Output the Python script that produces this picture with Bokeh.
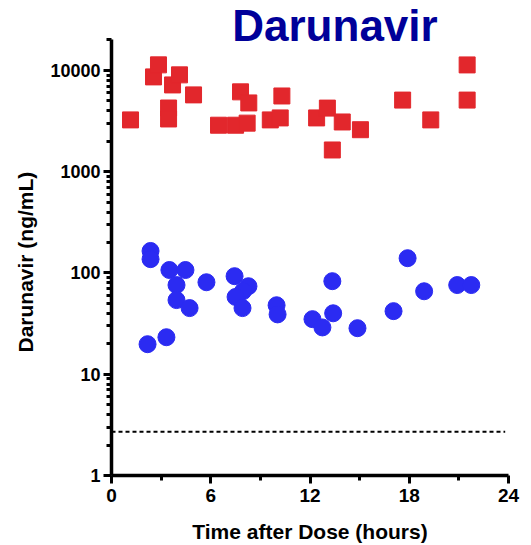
from bokeh.plotting import figure
from bokeh.models import FixedTicker, Label, Range1d, Title
from bokeh.embed import file_html
from bokeh.resources import INLINE

# Red squares series (time h, concentration ng/mL)
sq_x = [1.15, 2.54, 2.84, 3.69, 4.11, 4.96, 3.45, 3.45, 6.47, 7.5, 8.2, 7.8, 8.3,
        9.6, 10.2, 10.3, 12.4, 13.05, 13.95, 15.05, 13.35, 17.6, 19.3, 21.5, 21.5]
sq_y = [3250, 8640, 11360, 7200, 9050, 5740, 4260, 3320, 2880, 2880, 3020, 6150, 4780,
        3250, 3400, 5600, 3400, 4250, 3100, 2600, 1640, 5100, 3250, 11350, 5100]

# Blue circles series
ci_x = [2.36, 2.36, 3.5, 4.47, 5.74, 3.93, 3.93, 4.72, 3.32, 2.18, 7.44, 8.28, 7.95,
        7.5, 7.92, 9.98, 10.04, 12.15, 12.75, 13.4, 13.35, 14.87, 17.05, 17.9, 18.9,
        20.9, 21.75]
ci_y = [165, 137, 107, 107, 81, 76, 54, 45, 23.2, 19.8, 93, 74, 66,
        58, 45, 48, 39, 35, 29, 40, 83, 28.5, 42, 140, 66,
        76, 76]

# Dashed limit line
loq_x = [0, 23.8]
loq_y = [2.7, 2.7]

x_ticks = [0, 6, 12, 18, 24]
x_minor = [3, 9, 15, 21]
y_ticks = [1, 10, 100, 1000, 10000]
y_labels = ["1", "10", "100", "1000", "10000"]
y_minor = [m * d for d in [1, 10, 100, 1000] for m in range(2, 10)] + [20000]
y_axis_top = 20000

title_text = "Darunavir"
x_label = "Time after Dose (hours)"
y_label = "Darunavir (ng/mL)"

FONT = "Liberation Sans"

p = figure(width=531, height=545, y_axis_type="log", title=None,
           x_range=Range1d(0, 24), y_range=Range1d(1, 49100),
           output_backend="svg", toolbar_location=None,
           min_border_left=111, min_border_right=23,
           min_border_top=0, min_border_bottom=70)
p.outline_line_color = None
p.xgrid.visible = False
p.ygrid.visible = False
p.background_fill_color = "white"
p.border_fill_color = "white"

p.line(loq_x, loq_y, line_color="black", line_width=2, line_dash="4 3")
p.scatter(sq_x, sq_y, marker="square", size=16, fill_color="#E2272C",
          line_color="#E2272C")
p.scatter(ci_x, ci_y, marker="circle", size=17, fill_color="#2B2BF2",
          line_color="#2B2BF2")

for ax in (p.xaxis[0], p.yaxis[0]):
    ax.axis_line_width = 3.5
    ax.axis_line_color = "black"
    ax.major_tick_line_width = 3
    ax.minor_tick_line_width = 3
    ax.major_tick_out = 8
    ax.major_tick_in = 0
    ax.minor_tick_out = 5
    ax.minor_tick_in = 0
    ax.major_label_text_font = FONT
    ax.major_label_text_font_style = "bold"
    ax.major_label_text_color = "black"
    ax.axis_label_text_font = FONT
    ax.axis_label_text_font_style = "bold"
    ax.axis_label_text_color = "black"

p.xaxis.ticker = FixedTicker(ticks=x_ticks, minor_ticks=x_minor)
p.xaxis.major_label_text_font_size = "19px"
p.xaxis.major_label_standoff = 5
p.xaxis.axis_label = x_label
p.xaxis.axis_label_text_font_size = "21px"
p.xaxis.axis_label_standoff = 15

p.yaxis.ticker = FixedTicker(ticks=y_ticks, minor_ticks=y_minor)
p.yaxis.bounds = (1, y_axis_top)
p.yaxis.major_label_overrides = {t: l for t, l in zip(y_ticks, y_labels)}
p.yaxis.major_label_text_font_size = "18px"
p.yaxis.major_label_standoff = 3

# y-axis label as a left-side title so it can be positioned along the axis
p.add_layout(Title(text=y_label, align="left", offset=123,
                   text_font=FONT, text_font_size="21px", text_font_style="bold",
                   text_color="black", vertical_align="middle", standoff=20),
             "left")

p.add_layout(Label(x=7.3, y=27600, text=title_text, text_font=FONT,
                   text_font_size="44px", text_font_style="bold",
                   text_color="#000099", text_baseline="alphabetic",
                   text_align="left"))

open("out.html", "w").write(file_html(p, INLINE))
